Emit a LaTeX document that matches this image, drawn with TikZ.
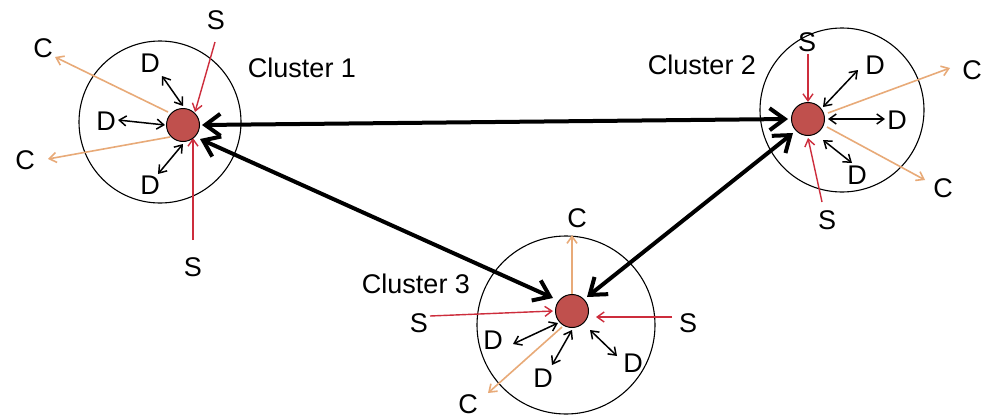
\documentclass[tikz,border=0pt]{standalone}
\usepackage{fontspec}
\setmainfont{Liberation Sans}
\usetikzlibrary{arrows.meta}
\definecolor{dotred}{RGB}{192,80,77}
\definecolor{sred}{RGB}{205,45,60}
\definecolor{corange}{RGB}{232,170,120}
\begin{document}
\begin{tikzpicture}[x=1pt,y=-1pt,
  lbl/.style={font=\fontsize{27}{32}\selectfont, inner sep=0pt},
  hub/.style={circle, draw=black, line width=1pt, fill=dotred, minimum size=33pt, inner sep=0pt},
  ring/.style={circle, draw=black, line width=1.1pt, inner sep=0pt},
  sarr/.style={draw=sred, line width=1.4pt, -{Straight Barb[length=7pt,width=10pt]}},
  carr/.style={draw=corange, line width=1.6pt, -{Straight Barb[length=7pt,width=10pt]}},
  darr/.style={draw=black, line width=1.5pt, {Straight Barb[length=7pt,width=10pt]}-{Straight Barb[length=7pt,width=10pt]}},
  link/.style={draw=black, line width=4pt, {Straight Barb[length=15pt,width=22pt]}-{Straight Barb[length=15pt,width=22pt]}},
]
\useasboundingbox (0,0) rectangle (986,418);
\fill[white] (0,0) rectangle (986,418);

% ---------- rings ----------
\node[ring, minimum size=162pt] (ring1) at (160,122) {};
\node[ring, minimum size=164pt] (ring2) at (842,110) {};
\node[ring, minimum size=178pt] (ring3) at (566,325) {};

% ---------- cluster labels ----------
\node[lbl] (cl1) at (302,68) {Cluster 1};
\node[lbl] (cl2) at (702,65) {Cluster 2};
\node[lbl] (cl3) at (416,284) {Cluster 3};

% ---------- Cluster 1 ----------
\node[lbl] (s1t) at (216,20) {S};
\node[lbl] (s1b) at (193,267) {S};
\node[lbl] (c1t) at (43,48) {C};
\node[lbl] (c1b) at (25,160) {C};
\node[lbl] (d1t) at (150,63) {D};
\node[lbl] (d1l) at (106,121) {D};
\node[lbl] (d1b) at (150,185) {D};
\coordinate (s1ta) at (215,42);  \coordinate (s1tb) at (195,112);
\coordinate (s1ba) at (193,240); \coordinate (s1bb) at (193,138);
\coordinate (c1ta) at (168,112); \coordinate (c1tb) at (55,57);
\coordinate (c1ba) at (170,137); \coordinate (c1bb) at (48,159);
\coordinate (d1ta) at (162,76);  \coordinate (d1tb) at (183,106);
\coordinate (d1la) at (118,120); \coordinate (d1lb) at (165,125);
\coordinate (d1ba) at (158,174); \coordinate (d1bb) at (183,144);
\draw[sarr] (s1ta) -- (s1tb);
\draw[sarr] (s1ba) -- (s1bb);
\draw[carr] (c1ta) -- (c1tb);
\draw[carr] (c1ba) -- (c1bb);
\draw[darr] (d1ta) -- (d1tb);
\draw[darr] (d1la) -- (d1lb);
\draw[darr] (d1ba) -- (d1bb);

% ---------- Cluster 2 ----------
\node[lbl] (s2t) at (807,42) {S};
\node[lbl] (s2b) at (827,220) {S};
\node[lbl] (d2t) at (875,65) {D};
\node[lbl] (d2r) at (897,120) {D};
\node[lbl] (d2b) at (857,175) {D};
\node[lbl] (c2t) at (972,70) {C};
\node[lbl] (c2b) at (943,188) {C};
\coordinate (s2ta) at (808,54);  \coordinate (s2tb) at (808,102);
\coordinate (s2ba) at (822,202); \coordinate (s2bb) at (808,138);
\coordinate (d2ta) at (858,70);  \coordinate (d2tb) at (823,107);
\coordinate (d2ra) at (885,119); \coordinate (d2rb) at (828,119);
\coordinate (d2ba) at (852,163); \coordinate (d2bb) at (823,140);
\coordinate (c2ta) at (828,113); \coordinate (c2tb) at (950,68);
\coordinate (c2ba) at (827,127); \coordinate (c2bb) at (925,180);
\draw[sarr] (s2ta) -- (s2tb);
\draw[sarr] (s2ba) -- (s2bb);
\draw[darr] (d2ta) -- (d2tb);
\draw[darr] (d2ra) -- (d2rb);
\draw[darr] (d2ba) -- (d2bb);
\draw[carr] (c2ta) -- (c2tb);
\draw[carr] (c2ba) -- (c2bb);

% ---------- Cluster 3 ----------
\node[lbl] (c3t) at (577,218) {C};
\node[lbl] (c3b) at (468,404) {C};
\node[lbl] (s3l) at (419,323) {S};
\node[lbl] (s3r) at (688,323) {S};
\node[lbl] (d3l) at (493,340) {D};
\node[lbl] (d3b) at (543,378) {D};
\node[lbl] (d3r) at (633,363) {D};
\coordinate (c3ta) at (572,295); \coordinate (c3tb) at (572,235);
\coordinate (c3ba) at (562,327); \coordinate (c3bb) at (488,393);
\coordinate (s3la) at (430,316); \coordinate (s3lb) at (553,311);
\coordinate (s3ra) at (672,317); \coordinate (s3rb) at (596,317);
\coordinate (d3la) at (513,344); \coordinate (d3lb) at (558,323);
\coordinate (d3ba) at (552,365); \coordinate (d3bb) at (572,330);
\coordinate (d3ra) at (617,356); \coordinate (d3rb) at (590,330);
\draw[carr] (c3ta) -- (c3tb);
\draw[carr] (c3ba) -- (c3bb);
\draw[sarr] (s3la) -- (s3lb);
\draw[sarr] (s3ra) -- (s3rb);
\draw[darr] (d3la) -- (d3lb);
\draw[darr] (d3ba) -- (d3bb);
\draw[darr] (d3ra) -- (d3rb);

% ---------- hubs ----------
\node[hub] (hub1) at (183,125) {};
\node[hub] (hub2) at (808,119) {};
\node[hub] (hub3) at (572,311) {};

% ---------- links between cluster heads ----------
\coordinate (l12a) at (202,125); \coordinate (l12b) at (788,119);
\coordinate (l13a) at (200,139); \coordinate (l13b) at (553,298);
\coordinate (l23a) at (793,133); \coordinate (l23b) at (587,297);
\draw[link] (l12a) -- (l12b);
\draw[link] (l13a) -- (l13b);
\draw[link] (l23a) -- (l23b);
\end{tikzpicture}
\end{document}
